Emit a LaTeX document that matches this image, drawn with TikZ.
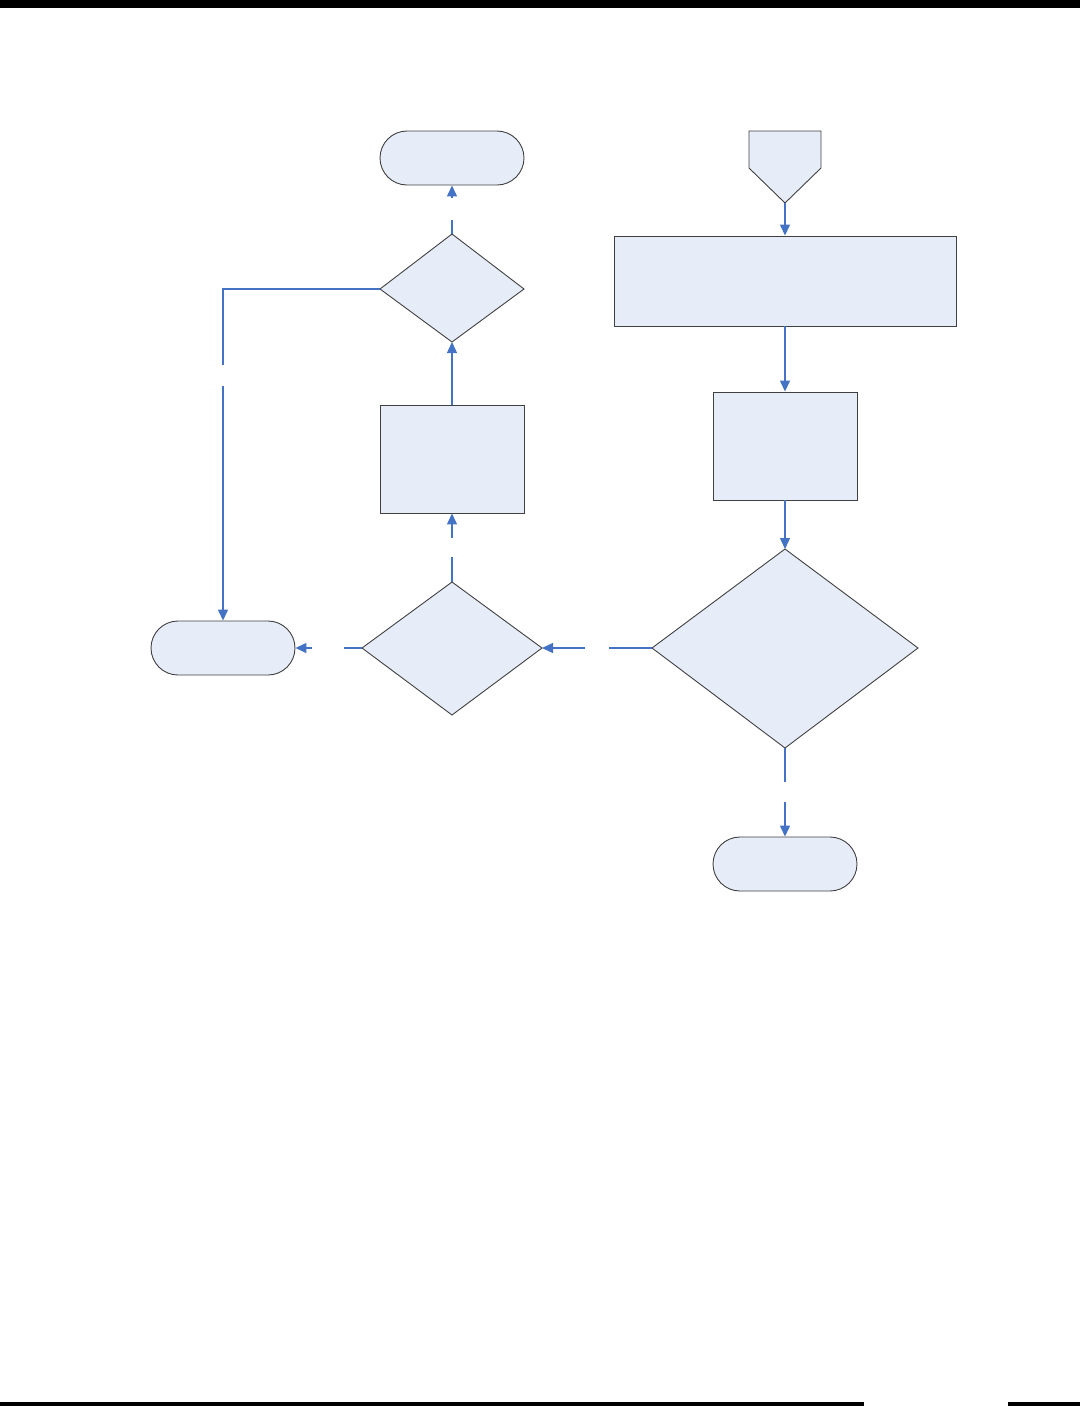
\documentclass[tikz,border=0pt]{standalone}
\usetikzlibrary{arrows.meta,shapes.geometric,shapes.misc}
\definecolor{boxfill}{RGB}{231,237,248}
\definecolor{boxline}{RGB}{64,64,64}
\definecolor{conn}{RGB}{68,114,196}
\begin{document}
\begin{tikzpicture}[x=1pt,y=-1pt,
  base/.style={draw=boxline,fill=boxfill,line width=0.9pt,inner sep=0pt},
  term/.style={base,rectangle,rounded corners=27pt,minimum width=144pt,minimum height=54pt},
  link/.style={draw=conn,line width=1.3pt},
  arr/.style={link,-{Triangle[length=11pt,width=10pt]}}]
\useasboundingbox (0,0) rectangle (1080,1406);
\fill[black] (0,0) rectangle (1080,8);
\fill[black] (0,1402) rectangle (864,1406);
\fill[black] (1008,1402) rectangle (1080,1406);

% nodes
\node[term] (t1) at (452,158) {};
\node[term] (t2) at (223,648) {};
\node[term] (t3) at (785,864) {};
\node[base,rectangle,minimum width=144pt,minimum height=108pt] (p1) at (452,459) {};
\node[base,rectangle,minimum width=342pt,minimum height=90pt] (p2) at (785,281) {};
\node[base,rectangle,minimum width=144pt,minimum height=108pt] (p3) at (785,446) {};
\path[base] (749,131) -- (821,131) -- (821,168) -- (785,203) -- (749,168) -- cycle;
\coordinate (op) at (785,203);
\path[base] (452,234) -- (524,289) -- (452,342) -- (380,289) -- cycle;
\coordinate (d1n) at (452,234); \coordinate (d1s) at (452,342); \coordinate (d1w) at (380,289);
\path[base] (452,582) -- (542,648) -- (452,715) -- (362,648) -- cycle;
\coordinate (d2n) at (452,582); \coordinate (d2e) at (542,648); \coordinate (d2w) at (362,648);
\path[base] (785,549) -- (918,648) -- (785,748) -- (652,648) -- cycle;
\coordinate (d3s) at (785,748); \coordinate (d3w) at (652,648); \coordinate (d3n) at (785,549);

% gap coordinates
\coordinate (g1a) at (452,220); \coordinate (g1b) at (452,198);
\coordinate (g2a) at (223,365); \coordinate (g2b) at (223,386);
\coordinate (g3a) at (452,557); \coordinate (g3b) at (452,538);
\coordinate (g4a) at (344,648); \coordinate (g4b) at (312,648);
\coordinate (g5a) at (609,648); \coordinate (g5b) at (585,648);
\coordinate (g6a) at (785,782); \coordinate (g6b) at (785,802);
\coordinate (c1) at (223,289);

% connectors
\draw[arr] (op) -- (p2.north);
\draw[arr] (p2.south) -- (p3.north);
\draw[arr] (p3.south) -- (d3n);
\draw[link] (d3s) -- (g6a);
\draw[arr] (g6b) -- (t3.north);
\draw[link] (d3w) -- (g5a);
\draw[arr] (g5b) -- (d2e);
\draw[link] (d2w) -- (g4a);
\draw[arr] (g4b) -- (t2.east);
\draw[link] (d2n) -- (g3a);
\draw[arr] (g3b) -- (p1.south);
\draw[arr] (p1.north) -- (d1s);
\draw[link] (d1n) -- (g1a);
\draw[arr] (g1b) -- (t1.south);
\draw[link] (d1w) -- (c1) -- (g2a);
\draw[arr] (g2b) -- (t2.north);
\end{tikzpicture}
\end{document}
